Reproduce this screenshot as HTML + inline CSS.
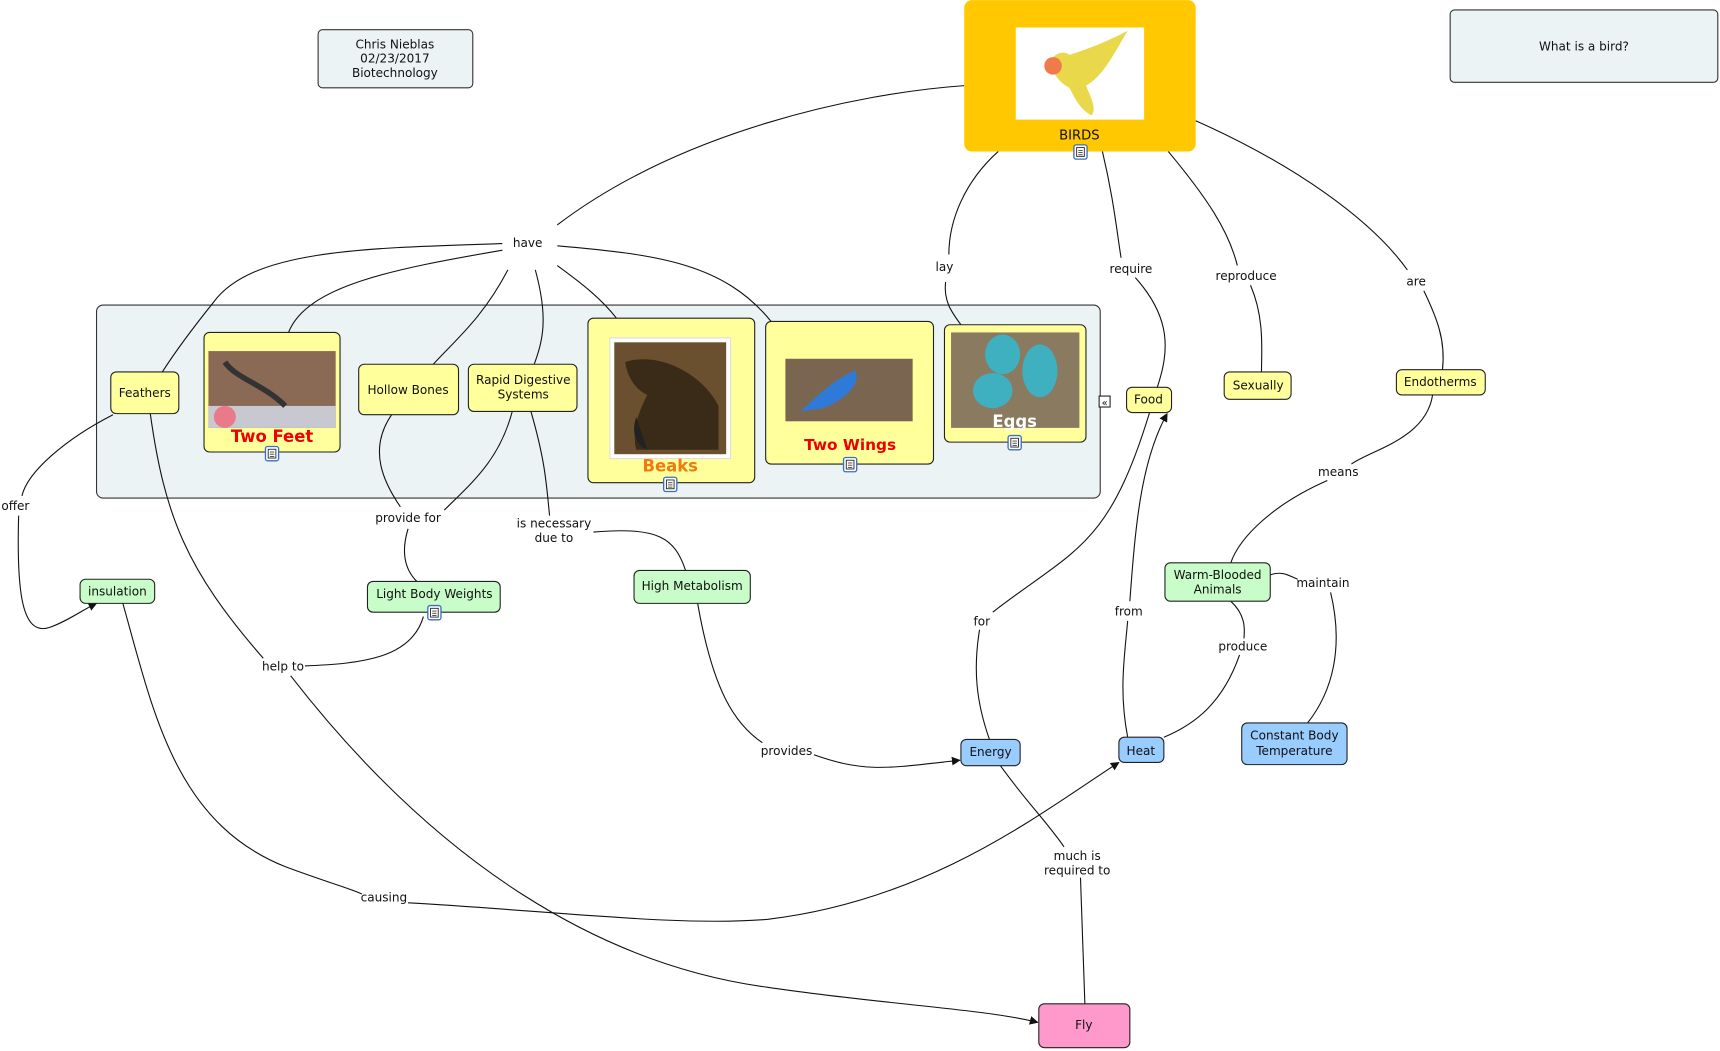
<!DOCTYPE html>
<html><head><meta charset="utf-8"><style>
html,body{margin:0;padding:0;background:#fff;width:1720px;height:1051px;overflow:hidden}
svg{display:block}
text{font-family:"DejaVu Sans","Liberation Sans",sans-serif;font-size:11px;fill:#111}
.l{fill:none;stroke:#111;stroke-width:1}
</style></head><body>
<svg width="1720" height="1051" viewBox="0 0 1568 958" xmlns="http://www.w3.org/2000/svg">
<defs>
<marker id="a" viewBox="0 0 10 10" refX="9" refY="5" markerWidth="8" markerHeight="8" orient="auto"><path d="M0,0 L10,5 L0,10 z" fill="#111"/></marker>
<g id="ic"><rect x="-6" y="-6" width="12" height="13" rx="2" fill="#fff" stroke="#3a6fc0" stroke-width="1.2"/><rect x="-3.5" y="-3.5" width="7" height="8" fill="#fff" stroke="#222" stroke-width="0.8"/><line x1="-2" y1="-1" x2="2" y2="-1" stroke="#222" stroke-width="0.7"/><line x1="-2" y1="1" x2="2" y2="1" stroke="#222" stroke-width="0.7"/><line x1="-2" y1="3" x2="2" y2="3" stroke="#222" stroke-width="0.7"/></g>
</defs>
<!-- group box -->
<rect x="88" y="278" width="915" height="176" rx="6" fill="#ecf3f5" stroke="#333"/>
<!-- lines -->
<path class="l" d="M879,78 C780,85 620,120 508,205"/>
<path class="l" d="M458,222 C330,226 230,228 195,275 C175,300 160,320 148,339"/>
<path class="l" d="M458,228 C360,245 280,260 263,303"/>
<path class="l" d="M463,246 C440,290 415,310 395,332"/>
<path class="l" d="M488,246 C500,290 495,310 487,332"/>
<path class="l" d="M508,242 C530,258 548,272 562,290"/>
<path class="l" d="M508,224 C600,232 660,240 703,293"/>
<path class="l" d="M910,138 C880,165 865,200 865,232"/>
<path class="l" d="M862,257 C860,275 868,285 876,296"/>
<path class="l" d="M1005,138 C1015,180 1018,210 1022,235"/>
<path class="l" d="M1035,253 C1068,290 1066,320 1055,353"/>
<path class="l" d="M1065,138 C1100,180 1120,210 1128,242"/>
<path class="l" d="M1140,260 C1153,290 1150,320 1150,339"/>
<path class="l" d="M1090,110 C1180,150 1250,200 1283,246"/>
<path class="l" d="M1298,265 C1310,290 1318,310 1315,337"/>
<path class="l" d="M1306,360 C1300,400 1250,410 1232,423"/>
<path class="l" d="M1210,438 C1160,460 1130,490 1122,513"/>
<path class="l" d="M1158,524 C1170,520 1175,525 1183,528"/>
<path class="l" d="M1213,540 C1225,590 1215,630 1192,659"/>
<path class="l" d="M1122,548 C1135,560 1135,572 1134,582"/>
<path class="l" d="M1130,597 C1115,640 1090,660 1061,672"/>
<path class="l" d="M1028,672 C1020,630 1025,600 1028,566"/>
<path class="l" marker-end="url(#a)" d="M1030,548 C1035,480 1040,420 1064,377"/>
<path class="l" d="M1048,376 C1010,500 980,500 905,558"/>
<path class="l" d="M893,574 C887,610 890,640 902,674"/>
<path class="l" d="M912,698 C935,730 955,750 970,772"/>
<path class="l" d="M985,800 L989,915"/>
<path class="l" d="M636,550 C650,630 670,660 695,677"/>
<path class="l" marker-end="url(#a)" d="M742,688 C790,705 810,700 875,693"/>
<path class="l" d="M484,375 C497,420 498,440 501,470"/>
<path class="l" d="M541,485 C600,480 615,490 625,520"/>
<path class="l" d="M357,378 C335,410 350,440 365,462"/>
<path class="l" d="M467,375 C455,420 430,440 405,465"/>
<path class="l" d="M372,482 C365,505 370,520 380,530"/>
<path class="l" d="M386,562 C375,600 330,605 278,607"/>
<path class="l" d="M137,377 C150,470 170,520 240,600"/>
<path class="l" marker-end="url(#a)" d="M265,616 C400,790 550,880 700,900 C800,915 900,920 946,932"/>
<path class="l" d="M103,378 C60,400 25,430 20,452"/>
<path class="l" marker-end="url(#a)" d="M17,470 C15,540 20,580 45,572 C62,566 75,556 88,550"/>
<path class="l" d="M112,550 C140,650 160,750 260,790 C300,805 320,810 330,815"/>
<path class="l" marker-end="url(#a)" d="M372,823 C500,830 620,845 700,838 C850,820 950,740 1020,695"/>
<!-- link labels -->
<g text-anchor="middle" fill="#111">
<rect x="458" y="212" width="50" height="16" fill="#fff"/><text x="481" y="225">have</text>
<text x="861" y="247">lay</text><text x="1031" y="249">require</text><text x="1136" y="255">reproduce</text><text x="1291" y="260">are</text>
<text x="14" y="465">offer</text><text x="372" y="476">provide for</text><text x="505" y="481">is necessary</text><text x="505" y="494">due to</text>
<text x="1220" y="434">means</text><text x="1206" y="535">maintain</text><text x="895" y="570">for</text><text x="1029" y="561">from</text><text x="1133" y="593">produce</text>
<text x="258" y="611">help to</text><text x="717" y="688">provides</text><text x="982" y="784">much is</text><text x="982" y="797">required to</text><text x="350" y="822">causing</text>
</g>
<!-- top boxes -->
<rect x="290" y="27" width="141" height="53" rx="4" fill="#ecf3f5" stroke="#333"/>
<g text-anchor="middle"><text x="360" y="44">Chris Nieblas</text><text x="360" y="57">02/23/2017</text><text x="360" y="70">Biotechnology</text></g>
<rect x="1322" y="9" width="244" height="66" rx="4" fill="#ecf3f5" stroke="#333"/>
<text x="1444" y="46" text-anchor="middle">What is a bird?</text>
<!-- BIRDS -->
<rect x="879" y="0" width="211" height="138" rx="7" fill="#ffc800"/>
<rect x="926" y="25" width="117" height="84" fill="#fff"/>
<path d="M975,50 C990,45 1005,40 1028,28 C1015,50 1005,70 990,78 C995,90 1000,100 995,105 C985,100 980,90 975,80 C965,75 958,65 958,55 C962,48 970,46 975,50z" fill="#e8d84a"/>
<circle cx="960" cy="60" r="8" fill="#f07a4a"/>
<text x="984" y="127" text-anchor="middle" style="font-size:12px">BIRDS</text>
<use href="#ic" x="985" y="138"/>
<!-- yellow nodes -->
<g fill="#ffff9c" stroke="#222">
<rect x="101" y="339" width="62" height="38" rx="5"/>
<rect x="186" y="303" width="124" height="109" rx="5"/>
<rect x="327" y="332" width="91" height="46" rx="5"/>
<rect x="427" y="332" width="99" height="43" rx="5"/>
<rect x="536" y="290" width="152" height="150" rx="5"/>
<rect x="698" y="293" width="153" height="130" rx="5"/>
<rect x="861" y="296" width="129" height="107" rx="5"/>
<rect x="1027" y="353" width="41" height="23" rx="5"/>
<rect x="1116" y="339" width="61" height="25" rx="5"/>
<rect x="1273" y="337" width="81" height="23" rx="5"/>
</g>
<!-- images -->
<rect x="190" y="320" width="116" height="70" fill="#8a6a55"/>
<rect x="190" y="370" width="116" height="20" fill="#c8c8d0"/>
<circle cx="205" cy="380" r="10" fill="#e87a8a"/>
<path d="M205,330 C215,345 240,350 260,370" stroke="#333" stroke-width="5" fill="none"/>
<rect x="556" y="308" width="110" height="110" fill="#fff" stroke="#ddd"/>
<rect x="560" y="312" width="102" height="102" fill="#6b5030"/>
<path d="M570,330 C600,320 640,340 655,370 L655,410 L580,410 C575,390 585,370 590,360 C580,355 572,345 570,330z" fill="#3a2a18"/>
<path d="M580,380 C575,395 580,405 590,410 L585,395z" fill="#222"/>
<rect x="716" y="327" width="116" height="57" fill="#7a6650"/>
<path d="M730,375 C750,355 770,340 780,338 C785,350 770,365 750,372z" fill="#2f7ad8"/>
<rect x="867" y="303" width="117" height="87" fill="#8a7a60"/>
<ellipse cx="914" cy="323" rx="16" ry="18" fill="#3fb0c0"/>
<ellipse cx="948" cy="338" rx="16" ry="24" fill="#3fb0c0"/>
<ellipse cx="905" cy="356" rx="18" ry="16" fill="#3fb0c0"/>
<g text-anchor="middle" style="font-weight:bold">
<text x="248" y="403" style="font-size:15px;font-weight:bold;fill:#e00">Two Feet</text>
<text x="611" y="430" style="font-size:15px;font-weight:bold;fill:#f07a10">Beaks</text>
<text x="775" y="410" style="font-size:14px;font-weight:bold;fill:#e00">Two Wings</text>
<text x="925" y="389" style="font-size:15px;font-weight:bold;fill:#fff">Eggs</text>
</g>
<use href="#ic" x="248" y="413"/><use href="#ic" x="611" y="441"/><use href="#ic" x="775" y="423"/><use href="#ic" x="925" y="403"/>
<rect x="1002" y="361" width="10" height="10" fill="#fff" stroke="#222"/><text x="1007" y="370" text-anchor="middle" style="font-size:9px">«</text>
<g text-anchor="middle">
<text x="132" y="362">Feathers</text><text x="372" y="359">Hollow Bones</text>
<text x="477" y="350">Rapid Digestive</text><text x="477" y="363">Systems</text>
<text x="1047" y="368">Food</text><text x="1147" y="355">Sexually</text><text x="1313" y="352">Endotherms</text>
</g>
<!-- green nodes -->
<g fill="#c8fcc8" stroke="#222">
<rect x="73" y="528" width="68" height="22" rx="5"/>
<rect x="335" y="530" width="121" height="28" rx="5"/>
<rect x="578" y="520" width="106" height="30" rx="5"/>
<rect x="1062" y="513" width="96" height="35" rx="5"/>
</g>
<use href="#ic" x="396" y="558"/>
<g text-anchor="middle">
<text x="107" y="543">insulation</text><text x="396" y="545">Light Body Weights</text><text x="631" y="538">High Metabolism</text>
<text x="1110" y="528">Warm-Blooded</text><text x="1110" y="541">Animals</text>
</g>
<!-- blue nodes -->
<g fill="#99ccff" stroke="#222">
<rect x="876" y="674" width="54" height="24" rx="5"/>
<rect x="1020" y="672" width="41" height="23" rx="5"/>
<rect x="1132" y="659" width="96" height="38" rx="5"/>
</g>
<rect x="947" y="915" width="83" height="40" rx="5" fill="#ff99cc" stroke="#222"/>
<g text-anchor="middle">
<text x="903" y="689">Energy</text><text x="1040" y="688">Heat</text>
<text x="1180" y="674">Constant Body</text><text x="1180" y="688">Temperature</text>
<text x="988" y="938">Fly</text>
</g>
</svg>
</body></html>
